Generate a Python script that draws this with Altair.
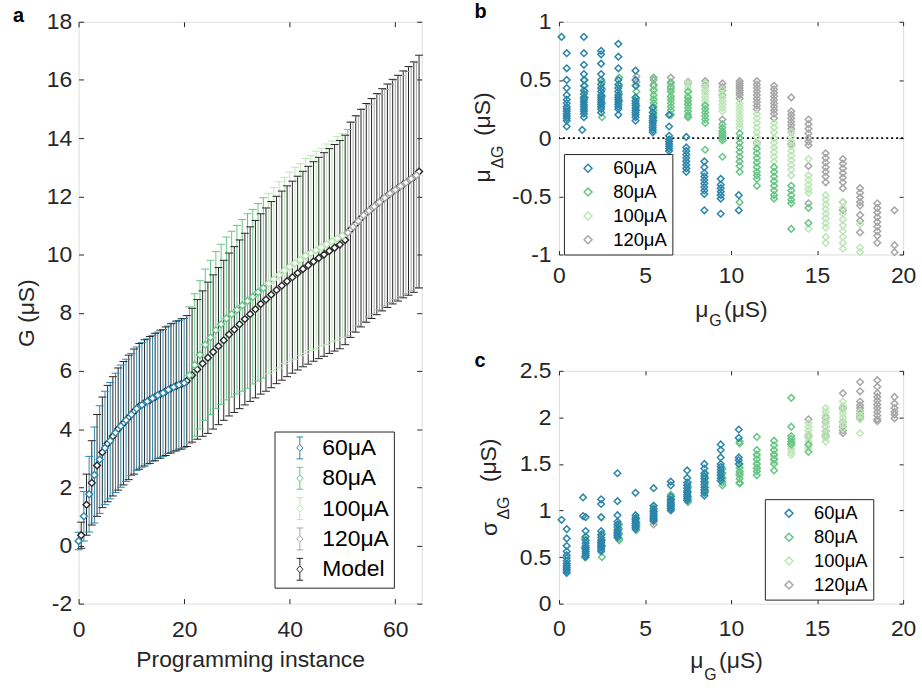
import altair as alt
import pandas as pd

FONT = "Liberation Sans"
INK = "#262626"
MINUS_FIX = "replace(datum.label, '\u2212', '-')"

SERIES = ["60μA", "80μA", "100μA", "120μA"]
SERIES_COLORS = ["#2b85ab", "#66c584", "#bce6b6", "#a6a6a6"]
MODEL_NAME = "Model"
MODEL_COLOR = "#262626"

# ---------------- panel a data ----------------
A_COUNTS = [21, 15, 15, 14]
A_MODEL_SHIFT = 0.5
A_EXP_MEAN = [0.15, 1.0, 1.76, 2.42, 2.95, 3.35, 3.6, 3.87, 4.1, 4.3, 4.5, 4.7, 4.83, 4.95, 5.06, 5.16, 5.24, 5.35, 5.44, 5.52, 5.58,
              5.85, 6.2, 6.55, 6.9, 7.15, 7.4, 7.6, 7.8, 7.95, 8.1, 8.25, 8.4, 8.55, 8.7, 8.85,
              9.0, 9.15, 9.3, 9.45, 9.58, 9.7, 9.82, 9.95, 10.05, 10.15, 10.25, 10.35, 10.45, 10.55, 10.65,
              10.75, 10.95, 11.15, 11.35, 11.5, 11.65, 11.8, 11.95, 12.1, 12.22, 12.35, 12.47, 12.6, 12.72]
A_EXP_SD = [0.3, 0.85, 1.3, 1.65, 1.85, 1.95, 2.0, 2.05, 2.1, 2.1, 2.1, 2.12, 2.14, 2.15, 2.16, 2.17, 2.18, 2.19, 2.2, 2.21, 2.22,
            2.35, 2.45, 2.55, 2.6, 2.65, 2.7, 2.75, 2.8, 2.85, 2.9, 2.95, 3.0, 3.0, 3.05, 3.1,
            3.1, 3.15, 3.2, 3.2, 3.25, 3.3, 3.3, 3.35, 3.35, 3.4, 3.4, 3.45, 3.45, 3.5, 3.5,
            3.55, 3.6, 3.6, 3.65, 3.65, 3.7, 3.7, 3.72, 3.75, 3.77, 3.8, 3.82, 3.85, 3.87]
A_MOD_MEAN = [0.35, 1.4, 2.15, 2.75, 3.2, 3.5, 3.75, 4.0, 4.2, 4.4, 4.6, 4.78, 4.9, 5.0, 5.1, 5.2, 5.3, 5.4, 5.48, 5.55, 5.65,
              5.85, 6.05, 6.25, 6.45, 6.65, 6.85, 7.05, 7.25, 7.42, 7.6, 7.78, 7.95, 8.12, 8.3, 8.45,
              8.62, 8.78, 8.93, 9.08, 9.22, 9.36, 9.5, 9.63, 9.76, 9.88, 10.0, 10.12, 10.23, 10.34, 10.5,
              10.85, 11.05, 11.25, 11.43, 11.58, 11.73, 11.88, 12.02, 12.16, 12.28, 12.41, 12.53, 12.66, 12.85]
A_MOD_SD = [0.45, 1.05, 1.45, 1.75, 1.9, 2.0, 2.05, 2.1, 2.12, 2.14, 2.15, 2.16, 2.17, 2.18, 2.19, 2.2, 2.21, 2.22, 2.23, 2.24, 2.25,
            2.3, 2.4, 2.5, 2.6, 2.65, 2.7, 2.75, 2.8, 2.85, 2.9, 2.95, 3.0, 3.05, 3.1, 3.15,
            3.2, 3.22, 3.25, 3.28, 3.3, 3.33, 3.36, 3.4, 3.43, 3.46, 3.5, 3.52, 3.55, 3.58, 3.6,
            3.7, 3.72, 3.74, 3.76, 3.78, 3.8, 3.82, 3.84, 3.86, 3.88, 3.9, 3.93, 3.96, 4.0]
A_X_TICKS = [0, 20, 40, 60]
A_Y_TICKS = [-2, 0, 2, 4, 6, 8, 10, 12, 14, 16, 18]

# ---------------- panel b data: (muG, [mu_dG values]) ----------------
B_60 = [(0.15, [0.87]),
        (0.45, [0.73, 0.6, 0.5, 0.43, 0.37, 0.33, 0.3, 0.27, 0.25, 0.23, 0.21, 0.19, 0.17, 0.15, 0.1]),
        (1.35, [0.07]),
        (1.45, [0.87, 0.73, 0.63, 0.55, 0.5, 0.45, 0.41, 0.38, 0.35, 0.33, 0.31, 0.29, 0.27, 0.25, 0.23, 0.21, 0.18]),
        (2.45, [0.75, 0.72, 0.64, 0.55, 0.5, 0.46, 0.43, 0.4, 0.37, 0.35, 0.33, 0.31, 0.29, 0.27, 0.25, 0.22]),
        (3.45, [0.81, 0.7, 0.6, 0.5, 0.46, 0.43, 0.4, 0.37, 0.35, 0.33, 0.31, 0.29, 0.27, 0.25, 0.2]),
        (4.45, [0.58, 0.5, 0.45, 0.35, 0.32, 0.3, 0.28, 0.26, 0.24, 0.22, 0.2, 0.18, 0.15]),
        (5.45, [0.26, 0.22, 0.19, 0.17, 0.15, 0.13, 0.11, 0.09, 0.07, 0.05]),
        (6.4, [0.2, 0.1, 0.02, -0.01, -0.03, -0.05, -0.07, -0.09, -0.11]),
        (7.4, [0.01, -0.08, -0.11, -0.14, -0.17, -0.2, -0.23, -0.26, -0.29]),
        (8.45, [-0.2, -0.25, -0.3, -0.33, -0.36, -0.39, -0.42, -0.45, -0.48, -0.62]),
        (9.4, [-0.35, -0.4, -0.43, -0.46, -0.49, -0.52, -0.65]),
        (10.45, [-0.49, -0.62])]
B_80 = [(1.5, [0.5, 0.45, 0.4, 0.35]),
        (2.5, [0.48, 0.42, 0.36, 0.3, 0.18]),
        (3.5, [0.52, 0.45, 0.38, 0.32]),
        (4.5, [0.45, 0.4, 0.34, 0.28, 0.24]),
        (5.5, [0.52, 0.45, 0.41, 0.37, 0.33, 0.3, 0.27, 0.24, 0.21, 0.18, 0.15]),
        (6.5, [0.48, 0.44, 0.4, 0.36, 0.33, 0.3, 0.27, 0.24, 0.2]),
        (7.5, [0.4, 0.35, 0.32, 0.29, 0.26, 0.23, 0.2, 0.18]),
        (8.5, [0.28, 0.25, 0.22, 0.19, 0.16, 0.13, -0.1]),
        (9.5, [0.12, 0.09, 0.06, 0.04, 0.02, 0.0, -0.02, -0.16]),
        (10.5, [0.04, 0.0, -0.04, -0.08, -0.12, -0.16, -0.2, -0.24, -0.29, -0.55]),
        (11.5, [-0.09, -0.13, -0.17, -0.21, -0.25, -0.29, -0.32, -0.35, -0.41]),
        (12.5, [-0.25, -0.29, -0.33, -0.37, -0.41, -0.45, -0.49, -0.52]),
        (13.5, [-0.41, -0.45, -0.49, -0.53, -0.56, -0.78]),
        (14.5, [-0.6, -0.73])]
B_100 = [(5.5, [0.42, 0.35]),
         (6.5, [0.45, 0.4, 0.35]),
         (7.5, [0.49, 0.46, 0.43, 0.4, 0.37, 0.34, 0.31]),
         (8.5, [0.47, 0.44, 0.41, 0.38, 0.35, 0.32, 0.29]),
         (9.5, [0.42, 0.38, 0.35, 0.32, 0.29, 0.26, 0.23]),
         (10.5, [0.3, 0.27, 0.24, 0.21, 0.18, 0.15, 0.12, 0.09]),
         (11.5, [0.21, 0.17, 0.13, 0.09, 0.05, 0.01, -0.03, -0.06]),
         (12.5, [0.13, 0.09, 0.05, 0.0, -0.04, -0.08, -0.12, -0.16, -0.2]),
         (13.5, [0.05, 0.01, -0.03, -0.07, -0.11, -0.15, -0.19, -0.23, -0.27, -0.32]),
         (14.5, [-0.18, -0.32, -0.36, -0.4, -0.44, -0.47, -0.78]),
         (15.5, [-0.49, -0.53, -0.57, -0.61, -0.65, -0.69, -0.73, -0.77, -0.85, -0.9]),
         (16.5, [-0.55, -0.6, -0.65, -0.7, -0.75, -0.8, -0.85, -0.9, -0.95]),
         (17.5, [-0.74, -0.94, -0.98])]
B_120 = [(4.5, [0.53, 0.48]),
         (5.5, [0.5, 0.46, 0.42]),
         (6.5, [0.52, 0.47, 0.42]),
         (7.5, [0.48, 0.18]),
         (8.5, [0.49, 0.45, 0.41]),
         (9.5, [0.47, 0.44, 0.41, 0.37, 0.16]),
         (10.5, [0.49, 0.47, 0.45, 0.43, 0.41, 0.39, 0.37, 0.34]),
         (11.5, [0.49, 0.46, 0.43, 0.4, 0.37, 0.34, 0.31, 0.28, 0.25, -0.04]),
         (12.5, [0.45, 0.42, 0.39, 0.36, 0.33, 0.3, 0.27, 0.24, 0.21, 0.17]),
         (13.5, [0.35, 0.23, 0.2, 0.17, 0.14, 0.11, 0.08, 0.05, -0.05]),
         (14.5, [0.16, 0.12, 0.08, 0.04, 0.0, -0.03, -0.06, -0.24, -0.56]),
         (15.5, [-0.13, -0.17, -0.21, -0.25, -0.29, -0.33, -0.38]),
         (16.5, [-0.18, -0.22, -0.26, -0.3, -0.34, -0.38, -0.43, -0.55, -0.62]),
         (17.5, [-0.43, -0.47, -0.51, -0.55, -0.58, -0.66, -0.71, -0.81]),
         (18.5, [-0.56, -0.6, -0.64, -0.68, -0.72, -0.76, -0.8, -0.84, -0.9]),
         (19.5, [-0.62, -0.92, -0.98])]

# ---------------- panel c data: (muG, [sigma_dG values]) ----------------
C_60 = [(0.15, [0.9]),
        (0.45, [0.8, 0.7, 0.62, 0.56, 0.52, 0.49, 0.46, 0.43, 0.41, 0.39, 0.37, 0.35, 0.33]),
        (1.4, [1.14, 0.94]),
        (1.55, [0.93, 0.78, 0.72, 0.68, 0.65, 0.62, 0.6, 0.58, 0.56, 0.54, 0.52, 0.5]),
        (2.45, [1.12, 1.07, 0.93, 0.78, 0.74, 0.71, 0.68, 0.66, 0.64, 0.62, 0.6, 0.58, 0.56]),
        (3.4, [1.4, 1.1, 0.95, 0.88, 0.85, 0.82, 0.79, 0.77, 0.75, 0.73, 0.71]),
        (4.45, [1.19, 0.95, 0.92, 0.9, 0.88, 0.86, 0.84, 0.82, 0.8]),
        (5.5, [1.24, 1.05, 1.02, 0.99, 0.97, 0.95, 0.93, 0.91, 0.89]),
        (6.5, [1.31, 1.27, 1.15, 1.12, 1.1, 1.08, 1.06, 1.04, 1.02, 1.0]),
        (7.45, [1.43, 1.35, 1.3, 1.27, 1.24, 1.21, 1.19, 1.17, 1.15, 1.13, 1.11]),
        (8.45, [1.5, 1.45, 1.4, 1.37, 1.34, 1.31, 1.28, 1.25, 1.22, 1.19, 1.16]),
        (9.4, [1.71, 1.65, 1.57, 1.5, 1.47, 1.44, 1.41, 1.38, 1.35, 1.32]),
        (10.45, [1.87, 1.78, 1.57, 1.54, 1.5])]
C_80 = [(1.5, [0.7, 0.6, 0.5]),
        (2.5, [0.75, 0.68, 0.62, 0.5]),
        (3.5, [0.85, 0.8, 0.75, 0.7, 0.68]),
        (4.5, [0.92, 0.87, 0.83, 0.79]),
        (5.5, [1.05, 1.0, 0.95, 0.9]),
        (6.5, [1.17, 1.12, 1.07, 1.02]),
        (7.5, [1.3, 1.25, 1.2, 1.15, 1.1]),
        (8.5, [1.4, 1.35, 1.3, 1.25, 1.2]),
        (9.5, [1.45, 1.4, 1.35, 1.3, 1.27]),
        (10.5, [1.74, 1.72, 1.5, 1.46, 1.42, 1.38, 1.34, 1.3, 1.29]),
        (11.5, [1.79, 1.65, 1.6, 1.55, 1.5, 1.46, 1.42, 1.38]),
        (12.5, [1.75, 1.7, 1.65, 1.6, 1.55, 1.5, 1.43]),
        (13.5, [2.21, 1.9, 1.8, 1.77, 1.74, 1.71]),
        (14.5, [1.71, 1.63])]
C_100 = [(2.5, [0.92]),
         (3.5, [0.8, 0.74]),
         (4.5, [0.88, 0.82]),
         (5.5, [1.0, 0.93]),
         (6.5, [1.12, 1.05]),
         (7.5, [1.25, 1.15]),
         (8.5, [1.35, 1.25]),
         (9.5, [1.4, 1.32]),
         (10.5, [1.45, 1.38]),
         (11.5, [1.58, 1.5, 1.44]),
         (12.5, [1.65, 1.58, 1.52]),
         (13.5, [1.69, 1.66, 1.63, 1.6]),
         (14.5, [1.94, 1.9, 1.86, 1.82, 1.78, 1.74, 1.7, 1.67]),
         (15.5, [2.1, 2.06, 2.02, 1.98, 1.94, 1.9, 1.86, 1.82, 1.78, 1.74]),
         (16.5, [2.17, 2.12, 2.08, 2.04, 2.0, 1.96, 1.92, 1.88]),
         (17.5, [2.06, 2.02, 1.98, 1.83])]
C_120 = [(4.5, [0.85]),
         (5.5, [0.88, 0.85]),
         (6.5, [1.05]),
         (7.5, [1.12, 1.09]),
         (8.5, [1.22]),
         (9.5, [1.35]),
         (10.5, [1.4]),
         (11.5, [1.5, 1.45]),
         (12.5, [1.6, 1.55]),
         (13.5, [1.72]),
         (14.5, [1.98, 1.8]),
         (15.5, [2.0, 1.95, 1.9, 1.85, 1.8]),
         (16.5, [2.26, 2.1, 1.95, 1.9, 1.86, 1.83]),
         (17.5, [2.38, 2.28, 2.17, 2.13, 2.1, 2.07, 2.04, 2.01, 1.99]),
         (18.5, [2.4, 2.33, 2.26, 2.22, 2.18, 2.14, 2.1, 2.06, 2.02, 1.98, 1.96]),
         (19.5, [2.22, 2.15, 2.1, 2.06, 2.03, 1.99])]

BC_X_TICKS = [0, 5, 10, 15, 20]
B_Y_TICKS = [-1, -0.5, 0, 0.5, 1]
C_Y_TICKS = [0, 0.5, 1, 1.5, 2, 2.5]

# ---------------- sizes ----------------
W_A, H_A = 345, 585
W_B, H_B = 346, 234
FS = 23


def x_axis(values, span, tick, pad, title=None, title_pad=0):
    kw = dict(values=values, grid=True, gridDash=[tick, span - 2 * tick, tick, 4000],
              gridColor=INK, gridWidth=1, gridOpacity=1, ticks=False, tickSize=0,
              domain=False, labelFont=FONT, labelFontSize=FS, labelColor=INK,
              labelPadding=pad, labelFlush=False, labelOverlap=False, labelExpr=MINUS_FIX)
    if title:
        kw.update(title=title, titleFont=FONT, titleFontSize=FS, titleFontWeight="normal",
                  titleColor=INK, titlePadding=title_pad)
    else:
        kw["title"] = None
    return alt.Axis(**kw)


def y_axis(values, span, tick, pad, fmt, title=None, title_pad=0):
    kw = dict(values=values, grid=True, gridDash=[tick, span - 2 * tick, tick, 4000],
              gridColor=INK, gridWidth=1, gridOpacity=1, ticks=False, tickSize=0,
              domain=False, labelFont=FONT, labelFontSize=FS, labelColor=INK,
              labelPadding=pad, labelOverlap=False, format=fmt, labelExpr=MINUS_FIX)
    if title:
        kw.update(title=title, titleFont=FONT, titleFontSize=FS, titleFontWeight="normal",
                  titleColor=INK, titlePadding=title_pad)
    else:
        kw["title"] = None
    return alt.Axis(**kw)


def text_layer(txt, x, y, size=FS, angle=0, bold=False, align="left"):
    return alt.Chart(pd.DataFrame({"t": [txt]})).mark_text(
        font=FONT, fontSize=size, fontWeight="bold" if bold else "normal", color=INK if not bold else "black",
        align=align, baseline="alphabetic", angle=angle
    ).encode(text="t:N", x=alt.value(x), y=alt.value(y))


# ---------------- panel a ----------------
exp_series = []
for name, n in zip(SERIES, A_COUNTS):
    exp_series += [name] * n
n_a = len(A_EXP_MEAN)
df_exp = pd.DataFrame({
    "x": list(range(n_a)),
    "mean": A_EXP_MEAN,
    "lo": [m - s for m, s in zip(A_EXP_MEAN, A_EXP_SD)],
    "hi": [m + s for m, s in zip(A_EXP_MEAN, A_EXP_SD)],
    "series": exp_series,
})
df_mod = pd.DataFrame({
    "x": [i + A_MODEL_SHIFT for i in range(n_a)],
    "mean": A_MOD_MEAN,
    "lo": [m - s for m, s in zip(A_MOD_MEAN, A_MOD_SD)],
    "hi": [m + s for m, s in zip(A_MOD_MEAN, A_MOD_SD)],
    "series": [MODEL_NAME] * n_a,
})

ax_a_x = x_axis(A_X_TICKS, H_A, 5, 15, "Programming instance", 7)
ax_a_y = y_axis(A_Y_TICKS, W_A, 5, 7, "d", "G (μS)", 8)
xa = alt.X("x:Q", scale=alt.Scale(domain=[0, 65], nice=False, zero=False), axis=ax_a_x)


def ya(field):
    return alt.Y(f"{field}:Q", scale=alt.Scale(domain=[-2, 18], nice=False, zero=False), axis=ax_a_y)


color_a_scale = alt.Scale(domain=SERIES + [MODEL_NAME], range=SERIES_COLORS + [MODEL_COLOR])
ERRBAR_PATH = ("M0,-1L0,-0.34M0,0.34L0,1M-0.3,-1L0.3,-1M-0.3,1L0.3,1"
               "M0,-0.32L0.28,0L0,0.32L-0.28,0Z")
legend_a = alt.Legend(title=None, orient="none", legendX=197, legendY=412,
                      symbolType=ERRBAR_PATH, symbolSize=484, symbolStrokeWidth=1,
                      symbolFillColor="white",
                      labelFont=FONT, labelFontSize=FS, labelColor="black",
                      strokeColor=INK, fillColor="white", padding=5, symbolOffset=9,
                      labelOffset=11, rowPadding=3.5, cornerRadius=0)


def ca():
    return alt.Color("series:N", scale=color_a_scale, legend=legend_a)


layers_a = []
for df in (df_exp, df_mod):
    layers_a.append(alt.Chart(df).mark_rule(strokeWidth=1).encode(
        x=xa, y=ya("lo"), y2="hi:Q", color=ca()))
for df in (df_exp, df_mod):
    for f in ("hi", "lo"):
        layers_a.append(alt.Chart(df).mark_rule(strokeWidth=1, xOffset=-4, x2Offset=4).encode(
            x=xa, x2="x:Q", y=ya(f), color=ca()))
for df in (df_mod, df_exp):
    layers_a.append(alt.Chart(df).mark_point(shape="diamond", filled=False, fill="white", size=48,
                                             strokeWidth=1.4, opacity=1).encode(
        x=xa, y=ya("mean"), color=ca()))
layers_a.append(text_layer("a", -66, 0, size=20, bold=True))
chart_a = alt.layer(*layers_a).properties(width=W_A, height=H_A)


# ---------------- panels b and c ----------------
def scatter_df(groups):
    rows = []
    for name, cols in zip(SERIES[::-1], groups[::-1]):
        for xv, ys in cols:
            for yv in ys:
                rows.append({"x": xv, "y": yv, "series": name})
    return pd.DataFrame(rows)


df_b = scatter_df([B_60, B_80, B_100, B_120])
df_c = scatter_df([C_60, C_80, C_100, C_120])


def scatter_panel(df, ydom, yticks, label_pad_x, legend_xy, letter, ytitle_parts, xtitle_parts):
    xs = alt.X("x:Q", scale=alt.Scale(domain=[0, 20], nice=False, zero=False),
               axis=x_axis(BC_X_TICKS, H_B, 4, label_pad_x))
    ys = alt.Y("y:Q", scale=alt.Scale(domain=ydom, nice=False, zero=False),
               axis=y_axis(yticks, W_B, 4, 8, "~g"))
    leg = alt.Legend(title=None, orient="none", legendX=legend_xy[0], legendY=legend_xy[1],
                     symbolType="diamond", symbolSize=64, symbolStrokeWidth=1.5,
                     labelFont=FONT, labelFontSize=18.5, labelColor="black",
                     strokeColor=INK, fillColor="white", padding=5, symbolOffset=10,
                     labelOffset=16, rowPadding=5, cornerRadius=0)
    pts = alt.Chart(df).mark_point(shape="diamond", filled=False, size=44, strokeWidth=1.5,
                                   opacity=1).encode(
        x=xs, y=ys,
        color=alt.Color("series:N", scale=alt.Scale(domain=SERIES, range=SERIES_COLORS), legend=leg))
    layers = [pts]
    if ydom[0] < 0:
        zero = alt.Chart(pd.DataFrame({"y": [0]})).mark_rule(
            strokeDash=[2, 3], strokeWidth=2, color="black").encode(y=ys)
        layers = [zero, pts]
    layers.append(text_layer(letter, -85, -3.5, size=20, bold=True))
    for txt, x, y, size in ytitle_parts:
        layers.append(text_layer(txt, x, y, size=size, angle=270, align="center"))
    for txt, x, y, size in xtitle_parts:
        layers.append(text_layer(txt, x, y, size=size))
    return alt.layer(*layers).properties(width=W_B, height=H_B)


chart_b = scatter_panel(
    df_b, [-1, 1], B_Y_TICKS, 10, (5, 133), "b",
    [("μ", -69, 155, FS), ("ΔG", -56, 136, 16), ("(μS)", -69, 93, FS)],
    [("μ", 137, 297, FS), ("G", 151, 306, 16), ("(μS)", 166, 297, FS)])
chart_c = scatter_panel(
    df_c, [0, 2.5], C_Y_TICKS, 14, (207, 129), "c",
    [("σ", -62, 159, FS), ("ΔG", -50, 138, 16), ("(μS)", -63, 90, FS)],
    [("μ", 132, 299, FS), ("G", 146, 311, 16), ("(μS)", 161, 299, FS)])

right = alt.vconcat(chart_b, chart_c, spacing=117, bounds="flush").resolve_scale(color="independent")
chart = alt.hconcat(chart_a, right, spacing=138, bounds="flush").resolve_scale(
    color="independent"
).properties(
    padding={"left": 12, "top": 0, "right": 5, "bottom": 5}
).configure_view(stroke=INK, strokeWidth=1).configure(background="white")

chart.save("out.html", embed_options={"renderer": "svg", "actions": False})
